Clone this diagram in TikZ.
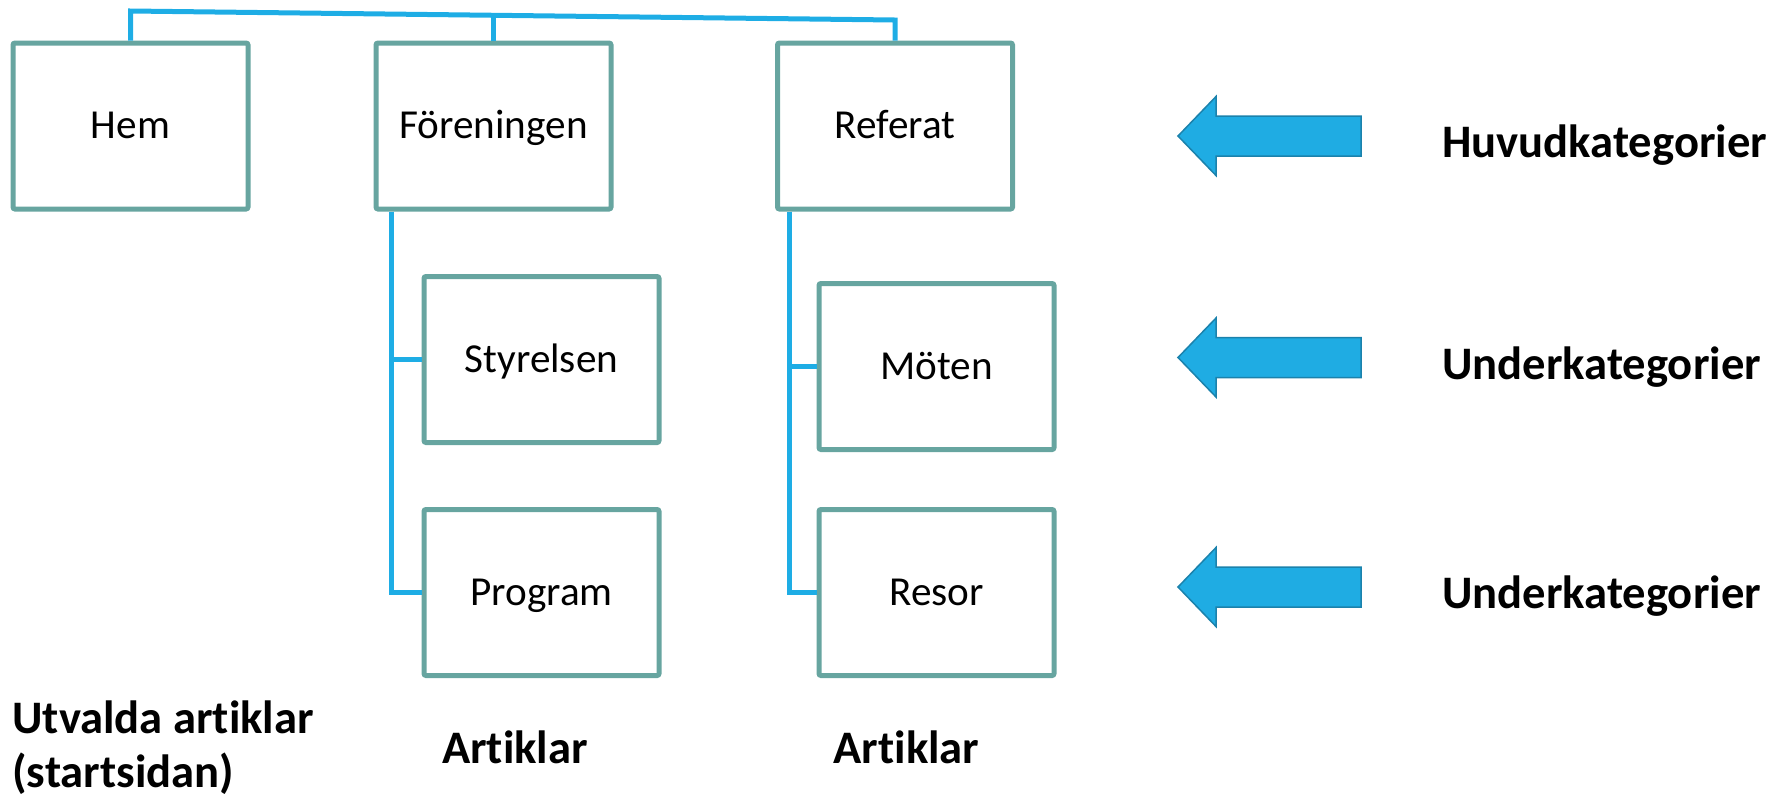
\documentclass[tikz,border=0pt]{standalone}
\usepackage{fontspec}
\setmainfont{Carlito}[Ligatures=NoCommon]
\usetikzlibrary{calc}
\definecolor{boxcol}{HTML}{67A5A0}
\definecolor{linecol}{HTML}{1EADE5}
\definecolor{arrfill}{HTML}{1FACE3}
\definecolor{arrdraw}{HTML}{1B82AC}
\begin{document}
\begin{tikzpicture}[x=0.5pt,y=-0.5pt,
  catbox/.style={draw=boxcol,line width=2.5pt,rounded corners=1pt,minimum width=117.5pt,minimum height=83pt,inner sep=0pt,font=\fontsize{20.6}{24}\selectfont,text height=12.6pt,text depth=0pt},
  conn/.style={draw=linecol,line width=2.5pt},
  lbl/.style={font=\fontsize{23.3}{27}\selectfont\bfseries,inner sep=0pt},
  bigarrow/.style={draw=arrdraw,fill=arrfill,line width=0.75pt}]
\useasboundingbox (0,0) rectangle (1780,799);
% boxes
\node[catbox] (hem)  at (130.5,126) {Hem};
\node[catbox] (for)  at (493.5,126) {Föreningen};
\node[catbox] (ref)  at (895,126)   {Referat};
\node[catbox] (sty)  at (541.5,359.5) {Styrelsen};
\node[catbox] (prog) at (541.5,592.5) {Program};
\node[catbox] (mot)  at (936.5,366.5) {Möten};
\node[catbox] (res)  at (936.5,592.5) {Resor};
% top connector
\coordinate (t1) at (130.5,11);
\coordinate (t2) at (493.5,15.3);
\coordinate (t3) at (895,20);
\draw[conn] (hem.north) -- (t1) -- (t3) -- (ref.north);
\draw[conn] (for.north) -- (t2);
% children
\coordinate (fv) at ($(for.south west)+(17.5,0)$);
\draw[conn] (fv) |- (sty.west);
\draw[conn] (fv) |- (prog.west);
\coordinate (rv) at ($(ref.south west)+(14.5,0)$);
\draw[conn] (rv) |- (mot.west);
\draw[conn] (rv) |- (res.west);
% arrows
\foreach \ty in {136,357.5,587} {
  \draw[bigarrow] (1178,\ty) -- ++(38,-39.5) -- ++(0,19.5) -- ++(145,0) -- ++(0,40) -- ++(-145,0) -- ++(0,19.5) -- cycle;
}
% labels
\node[lbl,anchor=base west] (huv)  at (1442,157) {Huvudkategorier};
\node[lbl,anchor=base west] (und1) at (1442,379) {Underkategorier};
\node[lbl,anchor=base west] (und2) at (1442,608) {Underkategorier};
\node[lbl,anchor=base] (art1) at (515,763) {Artiklar};
\node[lbl,anchor=base] (art2) at (906.5,763) {Artiklar};
\node[lbl,anchor=base west,align=left] (utv) at (12,787) {Utvalda artiklar\\(startsidan)};
\end{tikzpicture}
\end{document}
